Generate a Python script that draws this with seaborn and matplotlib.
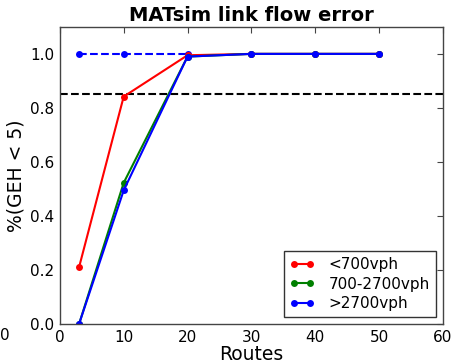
import matplotlib
matplotlib.use("Agg")
import matplotlib.pyplot as plt
import seaborn as sns
import pandas as pd

routes = [3, 10, 20, 30, 40, 50]
low = [0.21, 0.842, 0.995, 1.0, 1.0, 1.0]
mid = [0.0, 0.523, 0.99, 1.0, 1.0, 1.0]
high = [0.0, 0.495, 0.99, 1.0, 1.0, 1.0]
series_names = ["<700vph", "700-2700vph", ">2700vph"]
ref_routes = [3, 10, 20]
ref_values = [1.0, 1.0, 1.0]
threshold = 0.85
x_ticks = [0, 10, 20, 30, 40, 50, 60]
y_ticks = [0.0, 0.2, 0.4, 0.6, 0.8, 1.0]

sns.set_style("white")
plt.rcParams["font.family"] = ["DejaVu Sans"]
plt.rcParams["xtick.direction"] = "in"
plt.rcParams["ytick.direction"] = "in"
plt.rcParams["text.color"] = "black"
plt.rcParams["axes.labelcolor"] = "black"
plt.rcParams["xtick.color"] = "black"
plt.rcParams["ytick.color"] = "black"

df = pd.DataFrame({
    "Routes": routes * 3,
    "value": low + mid + high,
    "series": [series_names[0]] * 6 + [series_names[1]] * 6 + [series_names[2]] * 6,
})
ref_df = pd.DataFrame({"Routes": ref_routes, "value": ref_values})

fig = plt.figure(figsize=(4.57, 3.63), dpi=100)
ax = fig.add_axes([0.131, 0.107, 0.838, 0.819])

palette = {series_names[0]: "#ff0000", series_names[1]: "#008000", series_names[2]: "#0000ff"}
sns.lineplot(data=ref_df, x="Routes", y="value", ax=ax, color="#0000ff",
             linestyle="--", marker="o", markersize=5, markeredgewidth=0,
             linewidth=1.5, legend=False)
ax.axhline(threshold, color="black", linestyle="--", linewidth=1.5)
sns.lineplot(data=df, x="Routes", y="value", hue="series", palette=palette, ax=ax,
             marker="o", markersize=5, markeredgewidth=0, linewidth=1.5)

ax.set_xlim(0, 60)
ax.set_ylim(0, 1.1)
ax.set_xticks(x_ticks)
ax.set_yticks(y_ticks)
ax.set_xticklabels([str(t) for t in x_ticks])
ax.set_yticklabels([f"{t:.1f}" for t in y_ticks])
ax.tick_params(axis="both", which="both", direction="in", length=4, width=0.8,
               labelsize=11, top=True, right=True, color="#444444",
               labelcolor="black", pad=4)
for s in ax.spines.values():
    s.set_color("#444444")
    s.set_linewidth(1.0)
ax.set_xlabel("Routes", fontsize=13.5, labelpad=0, color="black")
ax.set_ylabel("%(GEH < 5)", fontsize=13.5, labelpad=3, color="black")
ax.set_title("MATsim link flow error", fontsize=14, fontweight="bold", pad=4,
             color="black")

leg = ax.legend(loc="lower right", fontsize=11, frameon=True, fancybox=False,
                borderaxespad=0.45, handlelength=1.65, handletextpad=0.9,
                labelspacing=0.3, numpoints=2, borderpad=0.4)
leg.get_frame().set_edgecolor("black")
leg.get_frame().set_linewidth(1.0)
for t in leg.get_texts():
    t.set_color("black")

fig.text(0.0, 0.075, "0", fontsize=11, ha="left", va="center", color="black")

fig.savefig("out.png", dpi=100)
